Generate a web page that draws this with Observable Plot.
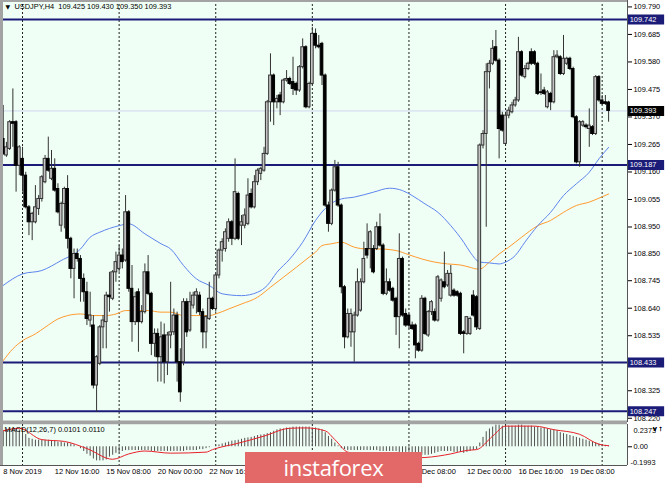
<!DOCTYPE html>
<html><head><meta charset="utf-8">
<script src="https://cdn.jsdelivr.net/npm/d3@7"></script>
<script src="https://cdn.jsdelivr.net/npm/@observablehq/plot@0.6"></script>
<style>
html,body{margin:0;padding:0;background:#fff;}
#chart{position:relative;width:665px;height:483px;overflow:hidden;background:#fff;}
#chart svg{display:block;}
#logo{position:absolute;left:245px;top:452px;width:177px;height:31px;background:#e36969;color:#fff;font-family:"Open Sans",sans-serif;font-size:22px;text-align:center;line-height:30px;letter-spacing:-0.3px;}
</style></head><body><div id="chart"></div>
<script>
// ---- data (USDJPY H4) ----
const opens=[109.286,109.223,109.248,109.350,109.350,109.184,109.210,109.146,109.025,108.968,
108.968,109.019,109.057,109.121,109.210,109.134,109.172,109.095,108.955,109.038,
109.095,108.905,108.790,108.847,108.828,108.752,108.701,108.593,108.574,108.345,
108.428,108.567,108.587,108.688,108.676,108.777,108.790,108.841,108.822,109.006,
108.714,108.587,108.701,108.587,108.625,108.777,108.695,108.504,108.542,108.453,
108.536,108.434,108.536,108.548,108.612,108.434,108.434,108.663,108.555,108.650,
108.688,108.688,108.625,108.548,108.599,108.676,108.637,108.765,108.860,108.866,
108.905,108.968,108.905,109.076,108.955,108.955,108.962,109.076,109.025,109.121,
109.153,109.165,109.229,109.426,109.528,109.426,109.452,109.426,109.509,109.515,
109.503,109.496,109.471,109.560,109.636,109.407,109.496,109.687,109.642,109.649,
109.528,109.032,108.962,109.089,109.178,109.032,108.720,108.529,108.548,108.548,
108.612,108.631,108.739,108.866,108.866,108.866,108.866,108.949,108.879,108.695,
108.739,108.714,108.676,108.606,108.828,108.618,108.612,108.574,108.574,108.504,
108.478,108.676,108.536,108.625,108.625,108.593,108.676,108.739,108.727,108.688,
108.707,108.701,108.695,108.548,108.542,108.542,108.688,108.682,108.561,109.261,
109.305,109.541,109.573,109.636,109.585,109.375,109.267,109.375,109.388,109.414,
109.433,109.617,109.522,109.553,109.617,109.617,109.573,109.464,109.471,109.407,
109.458,109.426,109.598,109.598,109.534,109.573,109.592,109.553,109.369,109.197,
109.337,109.337,109.324,109.331,109.305,109.522,109.433,109.426,109.425];
const highs=[109.414,109.273,109.356,109.477,109.356,109.261,109.254,109.159,109.032,109.006,
109.108,109.070,109.146,109.223,109.293,109.242,109.210,109.115,109.045,109.102,
109.146,108.911,108.866,108.866,108.841,108.771,108.739,108.701,108.612,108.459,
108.574,108.612,108.701,108.777,108.784,108.854,108.879,108.866,109.070,109.013,
108.803,108.701,108.714,108.650,108.809,108.841,108.701,108.561,108.561,108.587,
108.580,108.548,108.739,108.637,108.625,108.485,108.676,108.676,108.701,108.701,
108.714,108.701,108.637,108.612,108.739,108.682,108.771,108.866,108.905,108.943,
108.981,108.975,109.210,109.083,108.994,109.019,109.134,109.095,109.146,109.172,
109.178,109.254,109.433,109.611,109.534,109.452,109.464,109.515,109.547,109.522,
109.598,109.503,109.566,109.668,109.642,109.503,109.712,109.706,109.681,109.655,
109.534,109.045,109.095,109.204,109.197,109.038,108.727,108.637,108.637,108.625,
108.790,108.752,108.892,108.962,108.936,108.879,108.968,109.000,108.886,108.790,
108.752,108.720,108.682,108.924,108.835,108.637,108.618,108.587,108.580,108.510,
108.688,108.682,108.631,108.669,108.637,108.765,108.752,108.854,108.784,108.803,
108.714,108.707,108.701,108.555,108.606,108.606,108.707,108.688,109.267,109.318,
109.573,109.585,109.662,109.700,109.592,109.388,109.388,109.407,109.426,109.445,
109.674,109.623,109.566,109.579,109.630,109.623,109.579,109.534,109.483,109.471,
109.464,109.623,109.623,109.604,109.681,109.598,109.598,109.560,109.375,109.356,
109.356,109.344,109.401,109.337,109.528,109.528,109.452,109.452,109.430];
const lows=[109.223,109.216,109.242,109.254,109.083,109.146,109.083,109.019,108.917,108.898,
108.962,108.994,109.045,109.115,109.159,109.127,109.083,109.000,108.930,108.943,
108.866,108.752,108.676,108.816,108.663,108.663,108.574,108.567,108.332,108.243,
108.421,108.485,108.485,108.625,108.669,108.739,108.777,108.790,108.816,108.701,
108.510,108.574,108.472,108.580,108.618,108.688,108.459,108.453,108.358,108.358,
108.351,108.383,108.485,108.536,108.358,108.281,108.420,108.529,108.548,108.637,
108.618,108.612,108.485,108.485,108.593,108.631,108.625,108.752,108.816,108.854,
108.892,108.879,108.898,108.898,108.879,108.943,108.955,109.019,109.019,109.108,
109.127,109.159,109.223,109.350,109.337,109.401,109.375,109.420,109.503,109.490,
109.452,109.452,109.464,109.553,109.401,109.401,109.490,109.630,109.630,109.490,
109.025,108.930,108.955,109.083,109.025,108.695,108.485,108.523,108.491,108.434,
108.606,108.625,108.733,108.828,108.790,108.771,108.860,108.873,108.688,108.688,
108.701,108.663,108.536,108.485,108.606,108.567,108.561,108.555,108.447,108.472,
108.472,108.536,108.529,108.612,108.587,108.587,108.663,108.714,108.720,108.682,
108.682,108.682,108.536,108.466,108.536,108.536,108.606,108.555,108.555,109.248,
108.949,109.477,109.566,109.579,109.210,109.312,109.261,109.363,109.382,109.407,
109.426,109.522,109.515,109.547,109.566,109.566,109.452,109.452,109.452,109.401,
109.394,109.420,109.592,109.528,109.528,109.566,109.547,109.363,109.191,109.178,
109.331,109.324,109.254,109.299,109.299,109.426,109.414,109.414,109.350];
const closes=[109.229,109.254,109.350,109.344,109.184,109.254,109.146,109.025,108.968,109.000,
109.025,109.057,109.140,109.210,109.165,109.172,109.089,109.006,109.038,109.095,
108.905,108.790,108.847,108.828,108.752,108.701,108.599,108.612,108.345,108.453,
108.567,108.593,108.688,108.682,108.777,108.816,108.841,108.816,109.006,108.714,
108.587,108.682,108.587,108.625,108.777,108.695,108.504,108.542,108.453,108.529,
108.434,108.536,108.548,108.612,108.434,108.319,108.663,108.548,108.663,108.688,
108.701,108.625,108.548,108.606,108.676,108.637,108.765,108.860,108.892,108.930,
108.968,108.905,109.083,108.905,108.968,108.994,109.070,109.025,109.121,109.165,
109.172,109.229,109.426,109.528,109.426,109.439,109.426,109.509,109.515,109.496,
109.477,109.471,109.560,109.636,109.407,109.496,109.687,109.642,109.636,109.528,
109.032,108.962,109.089,109.178,109.032,108.720,108.529,108.618,108.618,108.612,
108.739,108.739,108.828,108.841,108.930,108.777,108.949,108.879,108.695,108.739,
108.707,108.669,108.606,108.828,108.612,108.574,108.574,108.561,108.498,108.478,
108.676,108.542,108.625,108.663,108.593,108.758,108.746,108.720,108.771,108.771,
108.688,108.688,108.542,108.542,108.606,108.599,108.612,108.567,109.261,109.305,
109.541,109.573,109.630,109.585,109.324,109.318,109.375,109.394,109.414,109.433,
109.617,109.528,109.553,109.573,109.573,109.573,109.458,109.462,109.458,109.464,
109.426,109.598,109.604,109.534,109.592,109.592,109.553,109.369,109.197,109.350,
109.350,109.331,109.337,109.305,109.522,109.433,109.420,109.420,109.393];

// moving averages read at sample bars
const blueBars=[0,6,12,18,24,27,30,36,39,44,49,52,56,60,64,68,74,79,82,85,89,93,97,101,105,109,115,120,124,127,131,135,139,143,145,148,151,154,156,159,162,166,170,174,178,182,185,188];
const blueVals=[108.727,108.771,108.784,108.822,108.866,108.911,108.930,108.955,108.962,108.924,108.886,108.866,108.803,108.752,108.727,108.695,108.688,108.701,108.727,108.777,108.828,108.892,108.975,109.032,109.057,109.064,109.083,109.098,109.089,109.070,109.038,109.006,108.955,108.892,108.854,108.816,108.813,108.809,108.816,108.841,108.892,108.955,109.006,109.070,109.115,109.159,109.210,109.254];
const orangeBars=[0,3,6,10,13,17,20,24,28,32,35,38,41,45,49,52,56,60,64,66,70,74,79,83,87,91,95,97,99,102,105,109,113,117,122,126,130,134,138,142,145,147,148,151,154,157,161,166,170,174,178,182,185,188];
const orangeVals=[108.440,108.485,108.516,108.542,108.567,108.599,108.612,108.618,108.612,108.612,108.618,108.631,108.631,108.631,108.625,108.625,108.612,108.612,108.612,108.618,108.637,108.656,108.682,108.720,108.758,108.796,108.835,108.854,108.879,108.886,108.892,108.873,108.866,108.866,108.860,108.844,108.828,108.816,108.809,108.805,108.796,108.790,108.790,108.816,108.847,108.873,108.911,108.955,108.975,109.006,109.032,109.045,109.060,109.076];

// horizontal levels and price scale
const levels=[109.742,109.187,108.433,108.247];
const lastPrice=109.393;
const priceTicks=[109.790,109.685,109.580,109.475,109.370,109.265,109.160,109.055,108.950,108.850,108.745,108.640,108.535,108.325,108.220];
const header="USDJPY,H4  109.425 109.430 109.350 109.393";

// MACD(12,26,7)
const macdVals=[0.17,0.18,0.19,0.19,0.19,0.18,0.17,0.13,0.09,0.08,
0.07,0.07,0.07,0.07,0.07,0.06,0.06,0.05,0.05,0.04,
0.04,0.03,0.02,0.00,-0.02,-0.05,-0.08,-0.10,-0.13,-0.15,
-0.15,-0.15,-0.14,-0.11,-0.09,-0.07,-0.06,-0.05,-0.04,-0.04,
-0.04,-0.04,-0.04,-0.04,-0.04,-0.04,-0.05,-0.05,-0.05,-0.05,
-0.05,-0.05,-0.05,-0.05,-0.05,-0.05,-0.05,-0.04,-0.04,-0.04,
-0.04,-0.03,-0.03,-0.02,-0.01,0.00,0.01,0.02,0.03,0.04,
0.05,0.06,0.065,0.07,0.08,0.09,0.095,0.10,0.11,0.12,
0.125,0.13,0.14,0.15,0.165,0.18,0.19,0.19,0.20,0.20,
0.21,0.21,0.21,0.21,0.21,0.21,0.20,0.20,0.19,0.18,
0.15,0.11,0.08,0.04,0.01,-0.02,-0.03,-0.04,-0.04,-0.04,
-0.04,-0.04,-0.04,-0.04,-0.04,-0.04,-0.04,-0.05,-0.05,-0.05,
-0.05,-0.05,-0.05,-0.06,-0.06,-0.06,-0.06,-0.07,-0.08,-0.08,
-0.09,-0.09,-0.09,-0.08,-0.07,-0.06,-0.05,-0.05,-0.05,-0.05,
-0.06,-0.06,-0.06,-0.07,-0.06,-0.05,-0.04,-0.03,0.04,0.10,
0.16,0.19,0.21,0.23,0.23,0.22,0.22,0.22,0.22,0.22,
0.23,0.23,0.22,0.22,0.22,0.21,0.21,0.20,0.20,0.19,
0.18,0.18,0.17,0.15,0.14,0.13,0.12,0.11,0.10,0.09,
0.08,0.07,0.06,0.05,0.04,0.03,0.02,0.015,0.0101];
const signalBars=[0,5,12,19,26,34,39,44,52,63,65,73,81,89,94,100,103,107,115,125,131,139,144,147,152,156,165,171,179,185,188];
const signalVals=[0.170,0.197,0.076,0.057,-0.019,-0.133,-0.076,-0.045,-0.068,-0.057,-0.030,0.038,0.114,0.197,0.201,0.170,0.076,-0.057,-0.100,-0.120,-0.114,-0.076,-0.038,-0.030,0.114,0.220,0.220,0.182,0.133,0.027,0.011];
const macdTitle="MACD(12,26,7) 0.0101 0.0110";
const macdTop=0.2373, macdBottom=-0.1993;

// time axis (labels left visible by the logo)
const dateBars=[0,16,32,48,64,128,144,160,176];
const dateLabels=["8 Nov 2019","12 Nov 16:00","15 Nov 08:00","20 Nov 00:00","22 Nov 16:00","9 Dec 08:00","12 Dec 00:00","16 Dec 16:00","19 Dec 08:00"];
const separatorBars=[6,36,66,96,126,156,186];

// ---- drawing ----
const FONT='"Liberation Sans", Arial, sans-serif';
const X_DOMAIN=[-0.84,193.87];
const BG="#f0fff5";
const NAVY="#1b1b78";
const candles=opens.map((o,i)=>({i,o,h:highs[i],l:lows[i],c:closes[i]}));
const bull=candles.filter(d=>d.c>=d.o), bear=candles.filter(d=>d.c<d.o);
const blue=blueBars.map((b,k)=>({b,v:blueVals[k]}));
const orange=orangeBars.map((b,k)=>({b,v:orangeVals[k]}));
const signal=signalBars.map((b,k)=>({b,v:signalVals[k]}));
const hist=macdVals.map((v,i)=>({i,v}));
const boxX1=194.15, boxX2=205.4, boxTextX=194.55;

const yDomain=[108.2038,109.8145];
const main=Plot.plot({
  width:665,height:422,marginLeft:0,marginRight:38,marginTop:0,marginBottom:0,
  x:{domain:X_DOMAIN,axis:null},
  y:{domain:yDomain,axis:null},
  style:{fontFamily:FONT,fontSize:"7.4px",color:"#000",background:"transparent",overflow:"visible"},
  marks:[
    Plot.frame({fill:BG,stroke:"none"}),
    Plot.ruleX(separatorBars,{stroke:"#222",strokeDasharray:"2,2",strokeWidth:1}),
    Plot.ruleY([lastPrice],{stroke:"#cdd5ef",strokeWidth:1}),
    Plot.line(orange,{x:"b",y:"v",stroke:"#ff9a2e",strokeWidth:1,curve:"monotone-x"}),
    Plot.line(blue,{x:"b",y:"v",stroke:"#5d84ee",strokeWidth:1,curve:"monotone-x"}),
    Plot.ruleY(levels,{stroke:NAVY,strokeWidth:2}),
    Plot.ruleX(candles,{x:"i",y1:"l",y2:"h",stroke:"#333",strokeWidth:1}),
    Plot.rect(bull,{x1:d=>d.i-0.42,x2:d=>d.i+0.42,y1:"o",y2:"c",fill:"#c4c4c4",stroke:"#333",strokeWidth:1}),
    Plot.rect(bear,{x1:d=>d.i-0.42,x2:d=>d.i+0.42,y1:"o",y2:"c",fill:"#000",stroke:"#000",strokeWidth:1}),
    Plot.ruleX([X_DOMAIN[0]],{stroke:"#a3a3a3",strokeWidth:5}),
    Plot.ruleY([yDomain[1]],{stroke:"#a3a3a3",strokeWidth:3}),
    Plot.ruleY([yDomain[0]],{stroke:"#a3a3a3",strokeWidth:4}),
    Plot.ruleX([X_DOMAIN[1]],{stroke:"#555",strokeWidth:1}),
    Plot.axisY({anchor:"right",ticks:priceTicks,tickFormat:d=>d.toFixed(3),tickSize:4,tickPadding:2,fontSize:7.4}),
    Plot.ruleY(levels,{x1:boxX1,x2:boxX2,stroke:NAVY,strokeWidth:10}),
    Plot.text(levels,{x:boxTextX,y:d=>d,text:d=>d.toFixed(3),fill:"#fff",textAnchor:"start",fontSize:7.4}),
    Plot.ruleY([lastPrice],{x1:boxX1,x2:boxX2,stroke:"#000",strokeWidth:10}),
    Plot.text([lastPrice],{x:boxTextX,y:d=>d,text:d=>d.toFixed(3),fill:"#fff",textAnchor:"start",fontSize:7.4}),
    Plot.text(["\u25BC"],{frameAnchor:"top-left",dx:5,dy:4,lineAnchor:"top",textAnchor:"start",fontSize:6,fontFamily:"DejaVu Sans"}),
    Plot.text([header],{frameAnchor:"top-left",dx:14,dy:3.5,lineAnchor:"top",textAnchor:"start",fontSize:7.4})
  ]
});

const macd=Plot.plot({
  width:665,height:61,marginLeft:0,marginRight:38,marginTop:2,marginBottom:18,
  x:{domain:X_DOMAIN,axis:null},
  y:{domain:[macdBottom,macdTop],axis:null},
  style:{fontFamily:FONT,fontSize:"7.4px",color:"#000",background:"transparent",overflow:"visible"},
  marks:[
    Plot.frame({fill:BG,stroke:"none"}),
    Plot.ruleX(separatorBars,{stroke:"#222",strokeDasharray:"2,2",strokeWidth:1}),
    Plot.ruleX(hist,{x:"i",y1:0,y2:"v",stroke:"#505050",strokeWidth:1}),
    Plot.line(signal,{x:"b",y:"v",stroke:"#e8202a",strokeWidth:1,curve:"monotone-x"}),
    Plot.ruleX([X_DOMAIN[0]],{stroke:"#a3a3a3",strokeWidth:5}),
    Plot.ruleY([macdBottom],{stroke:"#555",strokeWidth:1}),
    Plot.ruleX([X_DOMAIN[1]],{stroke:"#555",strokeWidth:1}),
    Plot.axisX({ticks:dateBars,tickFormat:d=>dateLabels[dateBars.indexOf(d)],textAnchor:"start",tickSize:0,tickPadding:3,fontSize:7.5}),
    Plot.axisY({anchor:"right",ticks:[0],tickFormat:()=>"0.00",tickSize:4,tickPadding:2,fontSize:7.4}),
    Plot.axisY({anchor:"right",ticks:[macdTop],tickFormat:d=>d.toFixed(4),tickSize:0,tickPadding:6,dy:6,fontSize:7.4}),
    Plot.axisY({anchor:"right",ticks:[macdBottom],tickFormat:d=>d.toFixed(4),tickSize:0,tickPadding:3,dy:-3,fontSize:7.4}),
    Plot.text([macdTitle],{frameAnchor:"top-left",dx:4,dy:2,lineAnchor:"top",textAnchor:"start",fontSize:7.4})
  ]
});

const root=document.getElementById("chart");
root.appendChild(main);
root.appendChild(macd);
const logo=document.createElement("div");
logo.id="logo";logo.textContent="instaforex";
root.appendChild(logo);
</script></body></html>
